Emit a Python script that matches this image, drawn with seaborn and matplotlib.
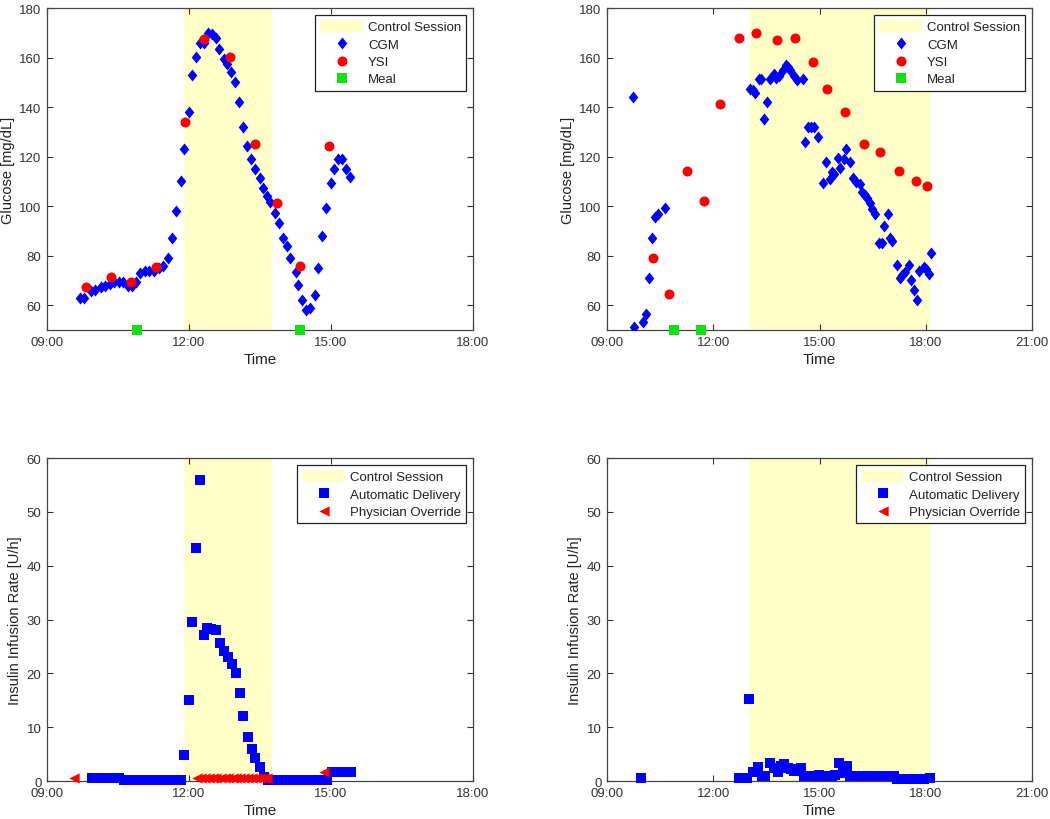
import numpy as np
import matplotlib
matplotlib.use("Agg")
import matplotlib.pyplot as plt
import seaborn as sns

# Closed-loop glucose control, two subjects: CGM / YSI glucose (top) and insulin delivery (bottom)
# times are in decimal hours of the day

# --- subject 1 (left column) ---
s1_session = (11.90, 13.75)

s1_cgm_t = [9.70, 9.79, 9.92, 10.02, 10.13, 10.23, 10.32, 10.42, 10.51, 10.61, 10.70, 10.80,
            10.89, 10.97, 11.06, 11.15, 11.25, 11.36, 11.45, 11.55, 11.64, 11.73, 11.82, 11.90,
            11.99, 12.06, 12.14, 12.23, 12.31, 12.40, 12.49, 12.57, 12.64, 12.73, 12.80, 12.89,
            12.97, 13.06, 13.15, 13.23, 13.30, 13.39, 13.49, 13.56, 13.65, 13.72, 13.81, 13.90,
            13.98, 14.06, 14.14, 14.25, 14.30, 14.39, 14.47, 14.55, 14.67, 14.72, 14.81, 14.89,
            15.00, 15.06, 15.14, 15.23, 15.32, 15.41]
s1_cgm = [63.1, 63.1, 65.8, 66.0, 67.4, 67.9, 68.4, 69.5, 69.2, 69.2, 67.9, 67.9,
          69.2, 72.9, 73.8, 73.8, 73.8, 74.9, 75.8, 79.2, 87.3, 98.0, 110.1, 123.0,
          138.1, 153.1, 160.1, 166.0, 166.0, 170.1, 169.7, 167.9, 163.3, 159.3, 157.2, 154.2,
          150.2, 142.1, 132.0, 124.4, 119.2, 115.2, 111.2, 107.2, 104.2, 101.5, 97.1, 93.3,
          87.3, 84.0, 79.2, 73.3, 68.2, 62.1, 58.1, 59.0, 64.1, 75.2, 87.9, 99.1,
          109.2, 115.2, 119.2, 119.2, 115.2, 111.9]

s1_ysi_t = [9.82, 10.36, 10.78, 11.30, 11.91, 12.32, 12.86, 13.40, 13.86, 14.35, 14.96]
s1_ysi = [67.4, 71.4, 69.2, 75.3, 134.0, 167.4, 160.1, 125.3, 101.2, 75.7, 124.2]

s1_meal_t = [10.90, 14.35]
s1_meal = [50, 50]

s1_auto_t = [9.95, 10.03, 10.12, 10.20, 10.28, 10.37, 10.45, 10.53,
             10.62, 10.70, 10.78, 10.87, 10.95, 11.03, 11.12, 11.20, 11.28, 11.37, 11.45,
             11.53, 11.62, 11.70, 11.78, 11.82,
             11.90, 11.99, 12.06, 12.14, 12.23, 12.31, 12.38, 12.46, 12.57, 12.65, 12.73,
             12.82, 12.91, 12.99, 13.07, 13.15, 13.25, 13.32, 13.40, 13.49, 13.58,
             13.67, 13.75, 13.83, 13.92, 14.00, 14.08, 14.17, 14.25, 14.33, 14.42, 14.50,
             14.58, 14.67, 14.75, 14.83, 14.92,
             15.02, 15.10, 15.18, 15.27, 15.35, 15.43]
s1_auto = [0.5, 0.5, 0.5, 0.5, 0.5, 0.5, 0.5, 0.5,
           0.2, 0.2, 0.2, 0.2, 0.2, 0.2, 0.2, 0.2, 0.2, 0.2, 0.2,
           0.2, 0.2, 0.2, 0.2, 0.2,
           4.8, 15.1, 29.6, 43.3, 55.9, 27.1, 28.5, 28.3, 28.1, 25.6, 24.1,
           23.1, 21.7, 20.1, 16.3, 12.0, 8.2, 6.0, 4.2, 2.6, 0.8,
           0.2, 0.2, 0.2, 0.2, 0.2, 0.2, 0.2, 0.2, 0.2, 0.2, 0.2,
           0.2, 0.2, 0.2, 0.2, 0.2,
           1.7, 1.7, 1.7, 1.7, 1.7, 1.7]

s1_override_t = [9.56, 12.17, 12.25, 12.33, 12.42, 12.50, 12.58, 12.67, 12.75, 12.83, 12.92,
                 13.00, 13.08, 13.17, 13.25, 13.33, 13.42, 13.50, 13.58, 13.65, 14.85]
s1_override = [0.5, 0.5, 0.5, 0.5, 0.5, 0.5, 0.5, 0.5, 0.5, 0.5, 0.5,
               0.5, 0.5, 0.5, 0.5, 0.5, 0.5, 0.5, 0.5, 0.5, 1.7]

# --- subject 2 (right column) ---
s2_session = (13.03, 18.11)

s2_cgm_t = [9.73, 9.75, 10.01, 10.10, 10.18, 10.26, 10.35, 10.43, 10.63,
            13.03, 13.12, 13.19, 13.30, 13.36, 13.43, 13.52, 13.61, 13.71, 13.78, 13.85,
            13.96, 14.04, 14.11, 14.18, 14.27, 14.36, 14.52, 14.58, 14.67, 14.76, 14.84,
            14.97, 15.09, 15.17, 15.29, 15.35, 15.42, 15.51, 15.59, 15.68, 15.76, 15.85,
            15.94, 16.03, 16.13, 16.20, 16.27, 16.34, 16.42, 16.49, 16.57, 16.69, 16.77,
            16.83, 16.92, 17.00, 17.06, 17.19, 17.26, 17.33, 17.40, 17.52, 17.58, 17.66,
            17.75, 17.82, 17.94, 18.01, 18.08, 18.16]
s2_cgm = [144.0, 51.1, 53.4, 56.3, 71.1, 87.2, 95.7, 97.0, 99.3,
          147.4, 147.0, 145.8, 151.4, 151.4, 135.3, 142.0, 151.4, 153.4, 151.7, 152.7,
          154.8, 156.8, 156.1, 154.8, 152.5, 151.1, 151.4, 126.1, 131.9, 131.9, 131.9,
          127.9, 109.4, 117.8, 111.1, 113.8, 113.1, 119.4, 115.4, 119.2, 123.2, 117.8,
          111.4, 109.8, 109.1, 105.7, 104.4, 103.3, 101.3, 99.0, 97.0, 85.2, 85.2,
          91.9, 97.0, 87.2, 85.9, 76.2, 71.1, 72.4, 73.5, 76.2, 70.1, 66.1,
          62.1, 73.8, 75.5, 74.8, 72.8, 81.3]

s2_ysi_t = [10.29, 10.76, 11.27, 11.75, 12.20, 12.74, 13.22, 13.80, 14.31, 14.82, 15.22,
            15.73, 16.26, 16.72, 17.25, 17.71, 18.04]
s2_ysi = [78.9, 64.4, 114.1, 102.0, 141.2, 168.0, 170.1, 167.2, 168.0, 158.1, 147.4,
          138.0, 125.2, 122.0, 114.1, 110.0, 108.0]

s2_meal_t = [10.88, 11.64]
s2_meal = [50, 50]

s2_auto_t = [9.96, 12.72, 12.84, 12.95, 13.02, 13.12, 13.25, 13.38, 13.47, 13.59, 13.71,
             13.82, 13.91, 14.01, 14.10, 14.20, 14.29, 14.38, 14.48, 14.57, 14.69, 14.84,
             14.98, 15.10, 15.21, 15.35, 15.45, 15.54, 15.66, 15.78,
             15.87, 15.97, 16.06, 16.16, 16.25, 16.35, 16.44, 16.54, 16.63, 16.73, 16.82,
             16.92, 17.01, 17.09,
             17.19, 17.28, 17.38, 17.47, 17.57, 17.66, 17.75, 17.85, 17.94, 18.11]
s2_auto = [0.5, 0.5, 0.5, 0.5, 15.3, 1.7, 2.6, 1.0, 0.9, 3.4, 2.5,
           1.7, 2.8, 3.1, 2.5, 2.2, 1.9, 2.3, 2.5, 1.0, 0.9, 0.9,
           1.2, 1.0, 0.9, 1.0, 1.2, 3.4, 1.5, 2.7,
           1.0, 1.0, 1.0, 1.0, 1.0, 1.0, 1.0, 1.0, 1.0, 1.0, 1.0,
           1.0, 1.0, 1.0,
           0.3, 0.3, 0.3, 0.3, 0.3, 0.3, 0.3, 0.3, 0.3, 0.6]

s2_override_t = []
s2_override = []

s1_xticks = [9, 12, 15, 18]
s2_xticks = [9, 12, 15, 18, 21]
glucose_ticks = [60, 80, 100, 120, 140, 160, 180]
insulin_ticks = [0, 10, 20, 30, 40, 50, 60]

sns.set_style("ticks")
plt.rcParams['font.family'] = ['Liberation Sans', 'DejaVu Sans']
plt.rcParams['text.color'] = '#222222'
plt.rcParams['axes.labelcolor'] = '#222222'
plt.rcParams['xtick.color'] = '#333333'
plt.rcParams['ytick.color'] = '#333333'

YELLOW = '#FFFFC8'
diamond = [(0, 1), (0.8, 0), (0, -1), (-0.8, 0), (0, 1)]

fig = plt.figure(figsize=(10.5, 8.2), dpi=100)
ax_tl = fig.add_axes([0.0448, 0.5963, 0.4057, 0.3927])
ax_tr = fig.add_axes([0.5781, 0.5963, 0.4048, 0.3927])
ax_bl = fig.add_axes([0.0448, 0.0463, 0.4057, 0.3939])
ax_br = fig.add_axes([0.5781, 0.0463, 0.4048, 0.3939])


def hhmm(h):
    return "%02d:00" % h


def style_axes(ax, xticks, yticks, ylim, ylabel):
    ax.set_xlim(xticks[0], xticks[-1])
    ax.set_ylim(*ylim)
    ax.set_xticks(xticks)
    ax.set_xticklabels([hhmm(h) for h in xticks])
    ax.set_yticks(yticks)
    ax.tick_params(direction='in', top=True, right=True, length=4, width=0.8,
                   labelsize=9.5, pad=4)
    for sp in ax.spines.values():
        sp.set_visible(True)
        sp.set_color('#444444')
        sp.set_linewidth(0.9)
    ax.set_xlabel("Time", fontsize=11, labelpad=3)
    ax.set_ylabel(ylabel, fontsize=10.5, labelpad=3)


def make_legend(ax):
    leg = ax.legend(loc='upper right', fontsize=9.5, frameon=True, fancybox=False,
                    framealpha=1, edgecolor='#222222', handlelength=3.2,
                    handleheight=1.0, handletextpad=0.4, labelspacing=0.3,
                    borderpad=0.4, borderaxespad=0.5)
    leg.get_frame().set_linewidth(0.9)


def glucose_panel(ax, session, cgm_t, cgm, ysi_t, ysi, meal_t, meal, xticks):
    ax.axvspan(session[0], session[1], color=YELLOW, lw=0, label='Control Session', zorder=0)
    sns.scatterplot(x=cgm_t, y=cgm, ax=ax, color='#0000FF', marker=diamond, s=75,
                    linewidth=0, label='CGM', zorder=3)
    sns.scatterplot(x=ysi_t, y=ysi, ax=ax, color='#FF0000', marker='o', s=52,
                    linewidth=0, label='YSI', zorder=4)
    sns.scatterplot(x=meal_t, y=meal, ax=ax, color='#11E011', marker='s', s=42,
                    linewidth=0, label='Meal', zorder=5, clip_on=False)
    style_axes(ax, xticks, glucose_ticks, (50, 180), 'Glucose [mg/dL]')
    make_legend(ax)


def insulin_panel(ax, session, auto_t, auto, ovr_t, ovr, xticks):
    ax.axvspan(session[0], session[1], color=YELLOW, lw=0, label='Control Session', zorder=0)
    sns.scatterplot(x=auto_t, y=auto, ax=ax, color='#0000FF', marker='s', s=45,
                    linewidth=0, label='Automatic Delivery', zorder=3, clip_on=False)
    if len(ovr_t):
        sns.scatterplot(x=ovr_t, y=ovr, ax=ax, color='#FF0000', marker='<', s=55,
                        linewidth=0, label='Physician Override', zorder=4, clip_on=False)
    else:
        ax.scatter(ovr_t, ovr, color='#FF0000', marker='<', s=55, linewidths=0,
                   label='Physician Override')
    style_axes(ax, xticks, insulin_ticks, (0, 60), 'Insulin Infusion Rate [U/h]')
    make_legend(ax)


glucose_panel(ax_tl, s1_session, s1_cgm_t, s1_cgm, s1_ysi_t, s1_ysi, s1_meal_t, s1_meal, s1_xticks)
glucose_panel(ax_tr, s2_session, s2_cgm_t, s2_cgm, s2_ysi_t, s2_ysi, s2_meal_t, s2_meal, s2_xticks)
insulin_panel(ax_bl, s1_session, s1_auto_t, s1_auto, s1_override_t, s1_override, s1_xticks)
insulin_panel(ax_br, s2_session, s2_auto_t, s2_auto, s2_override_t, s2_override, s2_xticks)

fig.savefig("out.png", dpi=100)
